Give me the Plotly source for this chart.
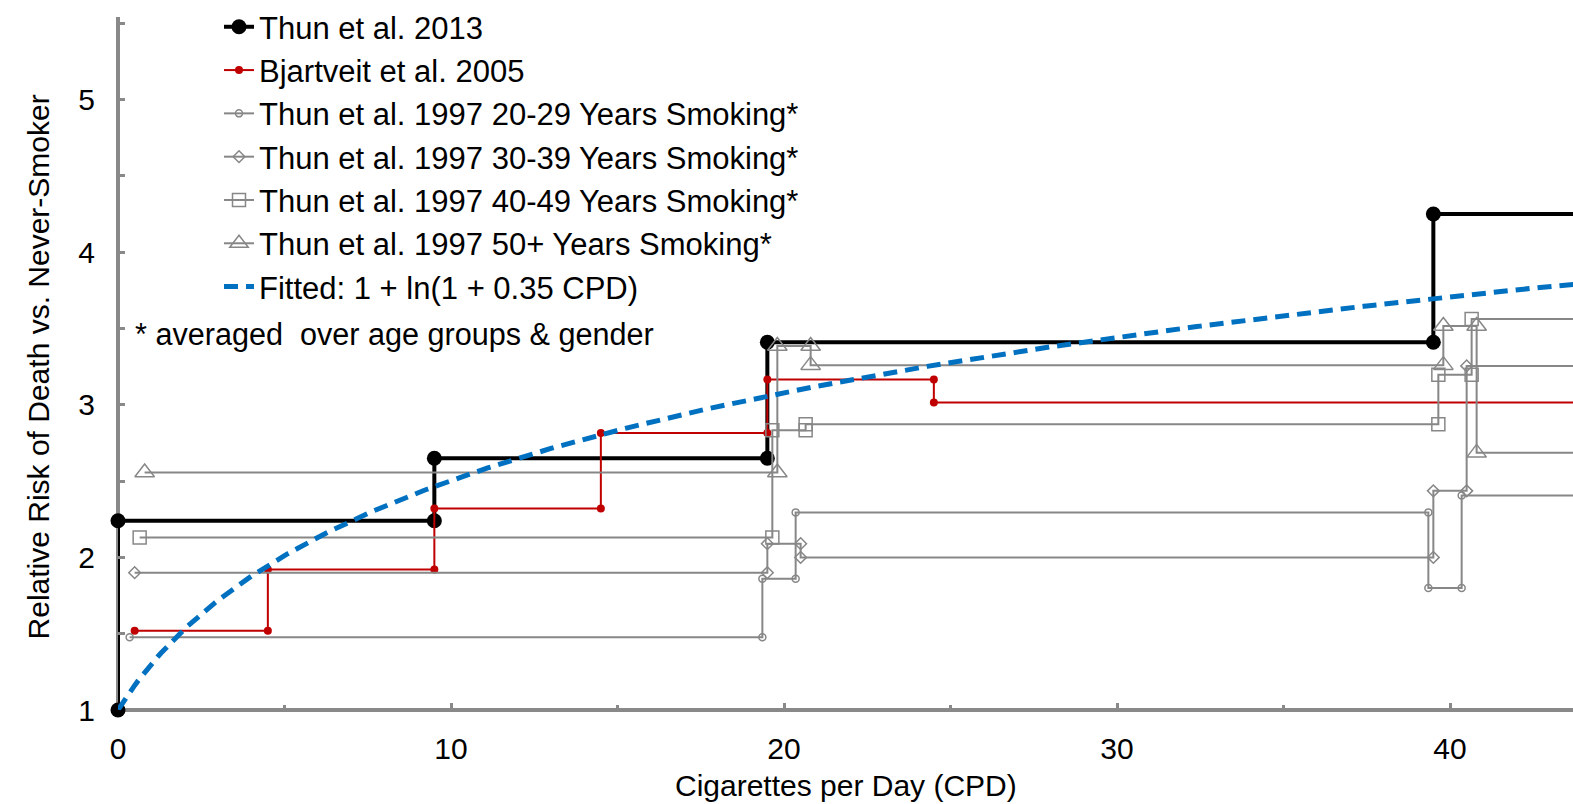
import numpy as np
import plotly.graph_objects as go

# ---- data: relative risk of death vs cigarettes per day (step series) ----
cpd_thun2013 = [0, 0, 9.5, 9.5, 19.5, 19.5, 39.5, 39.5, 59.5]
rr_thun2013 = [1.0, 2.24, 2.24, 2.65, 2.65, 3.41, 3.41, 4.25, 4.25]

cpd_bjartveit = [0.5, 4.5, 4.5, 9.5, 9.5, 14.5, 14.5, 19.5, 19.5, 24.5, 24.5, 59.5]
rr_bjartveit = [1.52, 1.52, 1.92, 1.92, 2.32, 2.32, 2.815, 2.815, 3.165, 3.165, 3.015, 3.015]

cpd_thun97_20 = [0.35, 19.35, 19.35, 20.35, 20.35, 39.35, 39.35, 40.35, 40.35, 59.35]
rr_thun97_20 = [1.477, 1.477, 1.86, 1.86, 2.295, 2.295, 1.80, 1.80, 2.405, 2.405]

cpd_thun97_30 = [0.5, 19.5, 19.5, 20.5, 20.5, 39.5, 39.5, 40.5, 40.5, 59.5]
rr_thun97_30 = [1.90, 1.90, 2.09, 2.09, 2.0, 2.0, 2.436, 2.436, 3.255, 3.255]

cpd_thun97_40 = [0.65, 19.65, 19.65, 20.65, 20.65, 39.65, 39.65, 40.65, 40.65, 59.65]
rr_thun97_40 = [2.13, 2.13, 2.833, 2.833, 2.872, 2.872, 3.197, 3.197, 3.562, 3.562]

cpd_thun97_50 = [0.8, 19.8, 19.8, 20.8, 20.8, 39.8, 39.8, 40.8, 40.8, 59.8]
rr_thun97_50 = [2.556, 2.556, 3.385, 3.385, 3.26, 3.26, 3.516, 3.516, 2.685, 2.685]

# fitted curve: 1 + ln(1 + 0.35 CPD)
fit_coef = 0.35
fit_cpd = np.linspace(0, 60, 601)
fit_rr = 1 + np.log(1 + fit_coef * fit_cpd)

series_names = [
    "Thun et al. 2013",
    "Bjartveit et al. 2005",
    "Thun et al. 1997 20-29 Years Smoking*",
    "Thun et al. 1997 30-39 Years Smoking*",
    "Thun et al. 1997 40-49 Years Smoking*",
    "Thun et al. 1997 50+ Years Smoking*",
    "Fitted: 1 + ln(1 + 0.35 CPD)",
]
footnote = "* averaged\u00a0 over age groups & gender"
x_title = "Cigarettes per Day (CPD)"
y_title = "Relative Risk of Death vs. Never-Smoker"

x_tickvals = [0, 10, 20, 30, 40]
x_ticktext = ["0", "10", "20", "30", "40"]
y_tickvals = [1, 2, 3, 4, 5]
y_ticktext = ["1", "2", "3", "4", "5"]

FONT = "Liberation Sans, Arial, Helvetica, sans-serif"
GRAY = "#878787"
AXIS_GRAY = "#898989"
RED = "#C00000"
BLUE = "#0070C0"

W, H = 1573, 804
M_L, M_R, M_T, M_B = 118, 0, 12, 94
PX_PER_CPD = 33.3
PX_PER_RR = 153.7
PLOT_W = W - M_L - M_R
PLOT_H = H - M_T - M_B
x_max = PLOT_W / PX_PER_CPD
y_max = 1 + PLOT_H / PX_PER_RR

fig = go.Figure()

fig.add_trace(go.Scatter(
    x=cpd_thun2013, y=rr_thun2013, name=series_names[0], mode="lines+markers",
    line=dict(color="black", width=4),
    marker=dict(color="black", size=15, symbol="circle"),
    cliponaxis=False, legendgroup="g0",
))
fig.add_trace(go.Scatter(
    x=cpd_bjartveit, y=rr_bjartveit, name=series_names[1], mode="lines+markers",
    line=dict(color=RED, width=2),
    marker=dict(color=RED, size=8, symbol="circle"),
    legendgroup="g1",
))

gray_series = [
    (cpd_thun97_20, rr_thun97_20, "circle-open", 7),
    (cpd_thun97_30, rr_thun97_30, "diamond-open", 9),
    (cpd_thun97_40, rr_thun97_40, "square-open", 13),
    (cpd_thun97_50, rr_thun97_50, "triangle-up-open", 17),
]
for i, (xs, ys, sym, sz) in enumerate(gray_series):
    fig.add_trace(go.Scatter(
        x=xs, y=ys, name=series_names[2 + i], mode="lines+markers",
        line=dict(color=GRAY, width=2),
        marker=dict(color=GRAY, size=sz, symbol=sym, line=dict(color=GRAY, width=1.5)),
        legendgroup="g%d" % (2 + i),
    ))

fig.add_trace(go.Scatter(
    x=fit_cpd, y=fit_rr, name=series_names[6], mode="lines",
    line=dict(color=BLUE, width=5, dash="14px,8px"),
    legendgroup="g6",
))

# axis lines drawn through the data origin
fig.add_shape(type="line", xref="paper", yref="paper", x0=0, x1=0, y0=0, y1=1,
              line=dict(color=AXIS_GRAY, width=4), layer="below")
fig.add_shape(type="line", xref="paper", yref="paper", x0=0, x1=1, y0=0, y1=0,
              line=dict(color=AXIS_GRAY, width=4), layer="below")

fig.add_annotation(text=footnote, xref="paper", yref="paper",
                   x=(133 - M_L) / PLOT_W, y=(H - M_B - 332) / PLOT_H,
                   xanchor="left", yanchor="middle", showarrow=False,
                   font=dict(family=FONT, size=30.6, color="black"))
fig.add_annotation(text=x_title, xref="paper", yref="paper",
                   x=0.5, y=(H - M_B - 786) / PLOT_H,
                   xanchor="center", yanchor="middle", showarrow=False,
                   font=dict(family=FONT, size=30, color="black"))
fig.add_annotation(text=y_title, xref="paper", yref="paper", textangle=-90,
                   x=(38 - M_L) / PLOT_W, y=(H - M_B - 365) / PLOT_H,
                   xanchor="center", yanchor="middle", showarrow=False,
                   font=dict(family=FONT, size=30, color="black"))

fig.update_layout(
    width=W, height=H,
    margin=dict(l=M_L, r=M_R, t=M_T, b=M_B, pad=0),
    paper_bgcolor="white", plot_bgcolor="white",
    font=dict(family=FONT, size=30, color="black"),
    showlegend=True,
    legend=dict(
        x=(219 - M_L) / PLOT_W, y=1 + 17 / PLOT_H, xanchor="left", yanchor="top",
        bgcolor="rgba(0,0,0,0)", borderwidth=0,
        font=dict(family=FONT, size=31, color="black"),
        traceorder="normal", tracegroupgap=5,
    ),
    xaxis=dict(
        range=[0, x_max], showgrid=False, zeroline=False, showline=False,
        tickmode="array", tickvals=x_tickvals, ticktext=x_ticktext,
        ticks="inside", ticklen=7, tickwidth=3, tickcolor=AXIS_GRAY,
        minor=dict(ticks="inside", dtick=5, ticklen=5, tickwidth=3, tickcolor=AXIS_GRAY, showgrid=False),
        tickfont=dict(family=FONT, size=30, color="black"),
        ticklabelstandoff=18,
    ),
    yaxis=dict(
        range=[1, y_max], showgrid=False, zeroline=False, showline=False,
        tickmode="array", tickvals=y_tickvals, ticktext=y_ticktext,
        ticks="inside", ticklen=7, tickwidth=3, tickcolor=AXIS_GRAY,
        minor=dict(ticks="inside", dtick=0.5, ticklen=7, tickwidth=3, tickcolor=AXIS_GRAY, showgrid=False),
        tickfont=dict(family=FONT, size=30, color="black"),
        ticklabelstandoff=22,
    ),
)

fig.write_html("out.html")
